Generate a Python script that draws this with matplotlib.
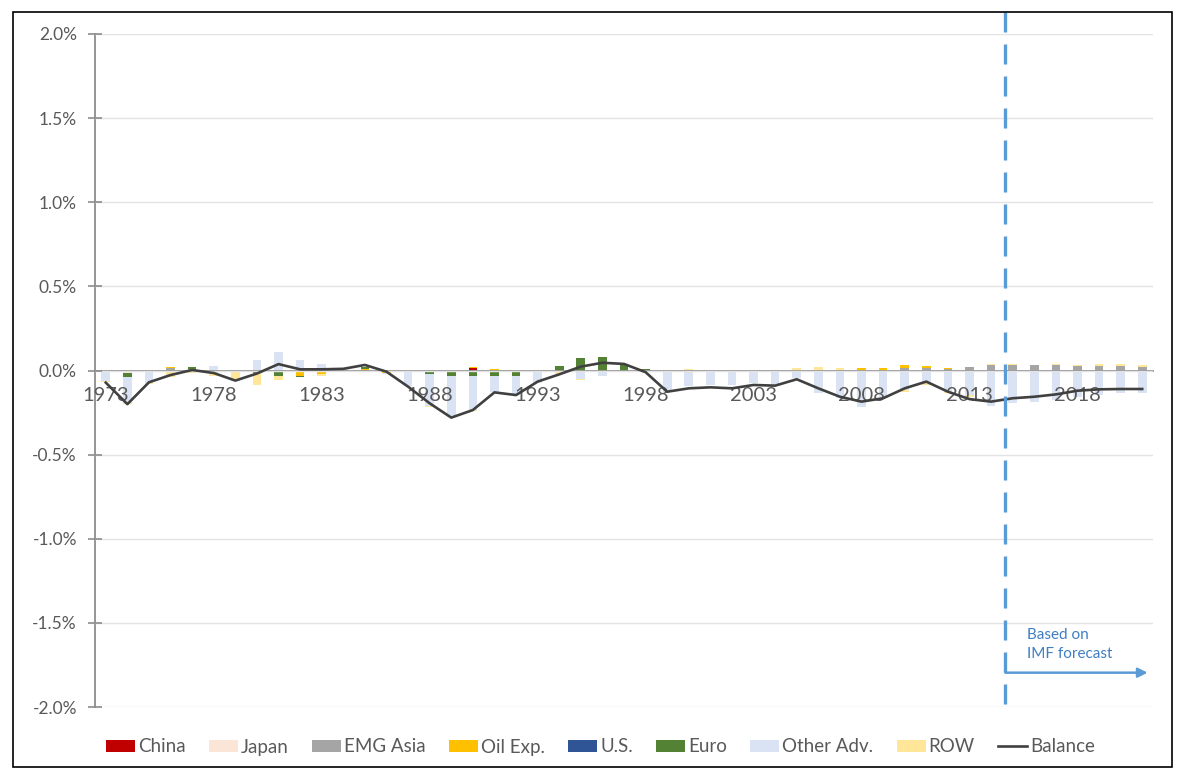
import numpy as np
import matplotlib
matplotlib.use("Agg")
import matplotlib.pyplot as plt
from matplotlib.patches import Rectangle
from matplotlib.ticker import FuncFormatter

plt.rcParams['font.family'] = ['Lato', 'DejaVu Sans']

years = list(range(1973, 2022))
tick_years = [1973, 1978, 1983, 1988, 1993, 1998, 2003, 2008, 2013, 2018]

# values in % of world GDP
china = [0]*17 + [0.012] + [0]*31
japan = [0, -0.012] + [0]*47
emg_asia = [0, 0, 0, 0.012, 0.008, 0, 0, 0, 0, 0,
            0, 0, 0.004, 0, 0, 0, 0, 0, 0, 0,
            0, 0, 0, 0, 0, 0, 0, 0, 0, 0,
            0, 0, 0, 0, 0, 0, 0, 0.012, 0.012, 0.006,
            0.018, 0.032, 0.035, 0.032, 0.030, 0.026, 0.026, 0.026, 0.022]
oil_exp = [0, 0, 0, 0.008, 0, 0, 0, 0, -0.010, -0.030,
           -0.022, 0, 0.006, -0.015, -0.008, 0, 0, 0.006, 0.010, 0,
           0, 0, 0, 0, 0, 0, 0, 0, 0, 0,
           0, 0, 0, 0, 0, 0.012, 0.015, 0.020, 0.014, 0.010,
           0.004, 0, 0, 0, 0, 0, 0, 0, 0]
us = [0]*49
euro = [0, -0.025, 0, 0, 0.012, 0, 0, -0.012, -0.020, -0.010,
        0, 0, 0.008, 0, 0, -0.020, -0.030, -0.030, -0.030, -0.035,
        0, 0.026, 0.072, 0.080, 0.040, 0.008, 0, 0, 0, 0,
        0, 0, 0, 0, 0, 0, 0, 0, 0, 0,
        0, 0, 0, 0, 0, 0, 0, 0, 0]
other_adv = [-0.063, -0.155, -0.073, 0, 0, 0.026, 0, 0.062, 0.110, 0.062,
             0.038, 0.010, 0, -0.005, -0.085, -0.190, -0.245, -0.205, -0.095, -0.110,
             -0.075, -0.010, -0.050, -0.035, -0.005, -0.005, -0.125, -0.095, -0.085, -0.085,
             -0.075, -0.085, -0.045, -0.135, -0.165, -0.215, -0.155, -0.115, -0.076, -0.125,
             -0.145, -0.210, -0.195, -0.190, -0.175, -0.155, -0.145, -0.135, -0.135]
row = [-0.006, -0.010, -0.006, -0.040, -0.015, -0.030, -0.065, -0.075, -0.025, 0,
       -0.010, 0, -0.010, 0, 0, -0.005, 0, -0.005, -0.005, 0,
       0, -0.010, -0.005, 0, -0.005, 0, 0, 0.008, 0, 0,
       0, 0, 0.012, 0.020, 0.012, 0, 0, -0.010, -0.010, -0.010,
       -0.010, 0.006, 0.006, 0, 0.006, 0.008, 0.010, 0.012, 0.008]
balance = [-0.072, -0.200, -0.070, -0.027, 0.003, -0.015, -0.060, -0.018, 0.038, 0.007,
           0.007, 0.010, 0.033, -0.007, -0.096, -0.195, -0.280, -0.235, -0.130, -0.146,
           -0.066, -0.023, 0.023, 0.046, 0.039, -0.010, -0.126, -0.106, -0.100, -0.106,
           -0.086, -0.090, -0.052, -0.106, -0.156, -0.185, -0.165, -0.106, -0.066, -0.126,
           -0.170, -0.185, -0.165, -0.156, -0.142, -0.120, -0.112, -0.110, -0.110]

series_names = ["China", "Japan", "EMG Asia", "Oil Exp.", "U.S.", "Euro", "Other Adv.", "ROW"]
series_vals = [china, japan, emg_asia, oil_exp, us, euro, other_adv, row]
series_colors = ["#C00000", "#FBE5D6", "#A5A5A5", "#FFC000", "#2F5597", "#548235", "#DAE3F3", "#FFE699"]

fig = plt.figure(figsize=(11.82, 7.69), dpi=100)
ax = fig.add_axes([95/1182, 1-707/769, (1153-95)/1182, (707-34)/769])

x = np.arange(len(years))
pos_bottom = np.zeros(len(years))
neg_bottom = np.zeros(len(years))
handles = []
for name, vals, col in zip(series_names, series_vals, series_colors):
    v = np.array(vals, dtype=float)
    bottoms = np.where(v >= 0, pos_bottom, neg_bottom)
    h = ax.bar(x, v, width=0.4, bottom=bottoms, color=col, label=name, zorder=1, linewidth=0)
    handles.append(h)
    pos_bottom += np.where(v > 0, v, 0)
    neg_bottom += np.where(v < 0, v, 0)

ln, = ax.plot(x, balance, color="#404040", lw=1.9, label="Balance", zorder=3)
handles.append(ln)

ax.set_xlim(-0.5, len(years)-0.5)
ax.set_ylim(-2.0, 2.0)
ax.set_yticks(np.arange(-2.0, 2.01, 0.5))
ax.yaxis.set_major_formatter(FuncFormatter(lambda v, p: f"{v:.1f}%"))
ax.set_axisbelow(False)
ax.grid(axis='y', color="#E3E3E3", lw=1, zorder=0)
for gl in ax.get_ygridlines():
    gl.set_zorder(0)

ax.set_xticks([years.index(y) for y in tick_years])
ax.set_xticklabels([str(y) for y in tick_years])
ax.spines['bottom'].set_position(('data', 0))
ax.spines['bottom'].set_color("#8C8C8C")
ax.spines['bottom'].set_linewidth(1.3)
ax.spines['bottom'].set_zorder(2)
ax.spines['left'].set_color("#8C8C8C")
ax.spines['left'].set_linewidth(1.3)
ax.spines['top'].set_visible(False)
ax.spines['right'].set_visible(False)
ax.tick_params(axis='x', length=0, pad=12, labelsize=14.5, labelcolor="#595959")
ax.tick_params(axis='y', direction='inout', length=10, width=1.2, color="#8C8C8C",
               pad=8, labelsize=12.5, labelcolor="#595959")

# forecast marker
xf = 41.66
ax.plot([xf, xf], [2.13, -2.03], color="#5B9BD5", lw=2.4, dashes=(6.0, 3.6),
        clip_on=False, zorder=4)
ax.annotate("", xy=(48.25, -1.796), xytext=(xf, -1.796),
            arrowprops=dict(arrowstyle="-|>", color="#5B9BD5", lw=1.8,
                            mutation_scale=14, shrinkA=0, shrinkB=0), zorder=4)
ax.text(42.65, -1.53, "Based on\nIMF forecast", color="#3F7FC4", fontsize=11,
        ha='left', va='top', linespacing=1.5)

labels = [h.get_label() for h in handles]
fig.legend(handles, labels, loc='center', bbox_to_anchor=(0.508, 1-747/769), ncol=9,
           frameon=False, fontsize=13.5, handlelength=1.55, handleheight=0.65,
           handletextpad=0.15, columnspacing=1.25, labelcolor="#595959")

fig.patches.append(Rectangle((13/1182, 1-767/769), (1172-13)/1182, (767-12)/769,
                             transform=fig.transFigure, fill=False, edgecolor="black",
                             lw=1.2, zorder=10))

fig.savefig("out.png", dpi=100)
